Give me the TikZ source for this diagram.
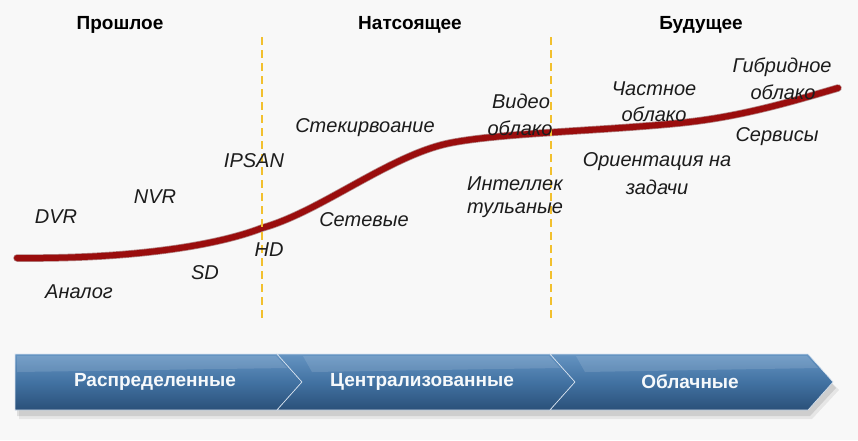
\documentclass[tikz,border=0pt]{standalone}
\usepackage{fontspec}
\setmainfont{Liberation Sans}
\definecolor{bgc}{HTML}{F8F8F8}
\definecolor{curvec}{HTML}{9A0D0D}
\definecolor{dashc}{HTML}{F2C02E}
\definecolor{txtc}{HTML}{1C1C1C}
\definecolor{bluetop}{HTML}{6594C2}
\definecolor{bluemid}{HTML}{4272A2}
\definecolor{bluebot}{HTML}{2A5079}
\tikzset{
  head/.style={font=\fontsize{19}{22}\selectfont\bfseries, text=black, inner sep=0pt},
  lbl/.style={font=\fontsize{20}{23}\selectfont\itshape, text=txtc, inner sep=0pt},
  chev/.style={top color=bluetop, bottom color=bluebot, middle color=bluemid, draw=white!75!bluetop, line width=0.6pt},
  chevtext/.style={font=\fontsize{19}{22}\selectfont\bfseries, text=white!94!bluetop, inner sep=0pt},
  sep/.style={dashc, line width=2pt, dash pattern=on 8pt off 5pt},
  curvepath/.style={line cap=round},
}
\begin{document}
\begin{tikzpicture}[x=1pt,y=-1pt]
\fill[bgc] (0,0) rectangle (858,440);
\useasboundingbox (0,0) rectangle (858,440);

% headings
\node[head] (h1) at (120,25) {Прошлое};
\node[head] (h2) at (410,25) {Натсоящее};
\node[head] (h3) at (701,25) {Будущее};

% curve
\coordinate (k0) at (17,258);
\coordinate (k1) at (262,228);
\coordinate (k2) at (450,143);
\coordinate (k3) at (680,123);
\coordinate (k4) at (838,88);
\draw[curvepath, curvec!70!black, line width=7.5pt, opacity=0.5]
  (k0) .. controls (120,259) and (210,248) .. (k1)
       .. controls (320,212) and (390,155) .. (k2)
       .. controls (500,133) and (600,131) .. (k3)
       .. controls (740,117) and (790,102) .. (k4);
\draw[curvepath, curvec, line width=6pt]
  (k0) .. controls (120,259) and (210,248) .. (k1)
       .. controls (320,212) and (390,155) .. (k2)
       .. controls (500,133) and (600,131) .. (k3)
       .. controls (740,117) and (790,102) .. (k4);

% separators
\coordinate (s1t) at (262,37);
\coordinate (s1b) at (262,322);
\coordinate (s2t) at (551,37);
\coordinate (s2b) at (551,322);
\draw[sep] (s1t) -- (s1b);
\draw[sep] (s2t) -- (s2b);

% labels
\node[lbl] (dvr) at (56,217) {DVR};
\node[lbl] (nvr) at (155,197) {NVR};
\node[lbl] (analog) at (79,292) {Аналог};
\node[lbl] (sd) at (205,273) {SD};
\node[lbl] (hd) at (269,250) {HD};
\node[lbl] (ipsan) at (254,161) {IPSAN};
\node[lbl] (stek) at (365,128) {Стекирвоание};
\node[lbl] (set) at (364,220) {Сетевые};
\node[lbl] (vid1) at (521,101) {Видео};
\node[lbl] (vid2) at (520,128) {облако};
\node[lbl] (int1) at (515,184) {Интеллек};
\node[lbl] (int2) at (515,210) {тульаные};
\node[lbl] (ch1) at (654,89) {Частное};
\node[lbl] (ch2) at (654,114) {облако};
\node[lbl] (or1) at (657,162) {Ориентация на};
\node[lbl] (or2) at (657,187) {задачи};
\node[lbl] (gb1) at (782,67) {Гибридное};
\node[lbl] (gb2) at (783,92) {облако};
\node[lbl] (serv) at (777,137) {Сервисы};

% band shadow
\fill[black, opacity=0.10] (17,360) -- (810,360) -- (836,388) -- (810,416) -- (17,416) -- cycle;
\fill[black, opacity=0.07] (19,362) -- (812,362) -- (839,390) -- (812,419) -- (19,419) -- cycle;

% chevrons
\path[chev] (15,354) -- (277,354) -- (302,382) -- (277,410) -- (15,410) -- cycle;
\path[chev] (277,354) -- (550,354) -- (575,382) -- (550,410) -- (277,410) -- (302,382) -- cycle;
\path[chev] (550,354) -- (808,354) -- (833,382) -- (808,410) -- (550,410) -- (575,382) -- cycle;
% glossy highlight
\fill[white, opacity=0.12] (17,356) -- (276,356) -- (287,368) -- (17,372) -- cycle;
\fill[white, opacity=0.12] (303,356) -- (549,356) -- (560,368) -- (312,372) -- cycle;
\fill[white, opacity=0.12] (576,356) -- (807,356) -- (818,368) -- (585,372) -- cycle;

\node[chevtext] (c1) at (155,382) {Распределенные};
\node[chevtext] (c2) at (422,382) {Централизованные};
\node[chevtext] (c3) at (690,382) {Облачные};
\end{tikzpicture}
\end{document}
